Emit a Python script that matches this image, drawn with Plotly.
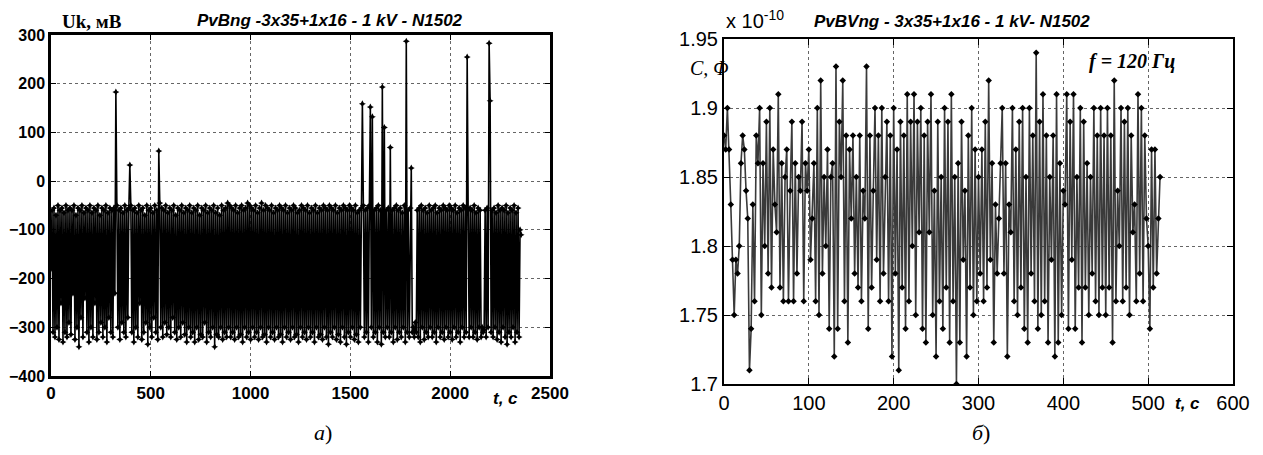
import plotly.graph_objects as go

# ---------------- data ----------------
# left panel: Uk (mV) vs t (s), sampled every 5 s
uk_step = 5
uk_values = [
    -180,-60,-310,-55,-320,-70,-300,-50,-325,-60,-250,-55,-330,-65,-310,-50,-320,-60,-290,-55,
    -315,-60,-230,-50,-325,-70,-300,-55,-340,-60,-280,-50,-320,-65,-240,-55,-310,-60,-330,-50,
    -300,-65,-320,-55,-250,-60,-325,-50,-310,-70,-290,-55,-320,-60,-300,-50,-330,-65,-280,-55,
    -310,-60,-320,-55,-230,183,-50,-300,-60,-325,-55,-290,-65,-310,-50,-320,-60,-280,-55,33,
    -50,-310,-60,-330,-55,-300,-65,-320,-50,-250,-60,-325,-55,-310,-70,-290,-50,-335,-60,-300,
    -55,-320,-65,-280,-50,-310,-60,-325,62,-45,-300,-55,-320,-60,-290,-50,-315,-65,-300,-55,
    -320,-60,-280,-50,-310,-70,-325,-55,-300,-60,-320,-50,-290,-65,-315,-55,-330,-60,-300,-50,
    -320,-65,-310,-55,-330,-60,-300,-50,-325,-70,-315,-55,-320,-60,-290,-50,-330,-65,-310,-55,
    -320,-60,-300,-50,-340,-65,-315,-55,-320,-70,-300,-50,-325,-60,-310,-55,-320,-45,-300,-50,
    -320,-55,-310,-60,-325,-50,-300,-65,-320,-55,-315,-50,-330,-60,-300,-55,-320,-45,-310,-50,
    -325,-55,-300,-60,-320,-50,-310,-65,-325,-55,-300,-45,-320,-60,-315,-50,-330,-55,-300,-60,
    -320,-50,-310,-65,-325,-55,-300,-60,-320,-50,-315,-55,-330,-60,-300,-50,-320,-65,-310,-55,
    -325,-60,-300,-50,-320,-55,-315,-65,-330,-60,-300,-50,-320,-55,-310,-60,-325,-50,-300,-65,
    -320,-55,-310,-60,-330,-50,-300,-65,-320,-55,-315,-60,-325,-50,-300,-55,-320,-60,-335,-50,
    -310,-55,-320,-60,-300,-50,-325,-65,-315,-55,-330,-60,-300,-50,-320,-55,-335,-60,-310,-50,
    -320,-55,-300,-60,-325,-50,-315,-65,-330,-60,-300,-55,159,-50,-320,-60,-310,-55,-330,-50,
    152,-300,132,-320,-60,-310,-55,-330,-50,-300,-60,-335,193,-310,110,-320,-60,-300,-55,-320,
    69,-310,-60,-330,-55,-300,-50,-325,-60,-310,-55,-320,-65,-300,-50,-330,287,-310,-60,-320,
    -55,27,-310,-300,-320,-290,-310,-60,-320,-55,-330,-50,-300,-60,-325,-55,-310,-65,-320,-50,
    -300,-60,-320,-55,-310,-50,-330,-65,-300,-55,-320,-60,-310,-50,-325,-55,-300,-60,-320,-50,
    -310,-55,-325,-60,-300,-50,-320,-65,-310,-55,-330,-60,-300,-50,-320,-55,-310,255,-60,-320,
    -55,-300,-60,-320,-50,-310,-65,-325,-55,-300,-60,-320,-300,-310,-305,-60,-320,-55,-300,283,
    165,-310,-60,-320,-55,-300,-65,-325,-50,-310,-60,-330,-55,-300,-60,-320,-50,-335,-65,-310,
    -55,-320,-60,-300,-50,-330,-65,-310,-55,-320,-100,-110,
]
uk_t = [i * uk_step for i in range(len(uk_values))]

# right panel: C (x1e-10 F) vs t (s), sampled every 2 s
c_step = 2
c_values = [
    1.88,1.87,1.90,1.87,1.83,1.79,1.75,1.79,1.78,1.80,
    1.86,1.88,1.87,1.84,1.82,1.71,1.74,1.83,1.76,1.88,
    1.86,1.90,1.75,1.86,1.80,1.89,1.78,1.90,1.77,1.87,
    1.83,1.81,1.91,1.77,1.86,1.76,1.85,1.87,1.76,1.84,
    1.89,1.76,1.86,1.78,1.85,1.84,1.89,1.76,1.86,1.84,
    1.87,1.79,1.82,1.86,1.76,1.90,1.75,1.92,1.78,1.85,
    1.80,1.87,1.74,1.85,1.86,1.72,1.93,1.74,1.89,1.85,
    1.92,1.76,1.88,1.73,1.87,1.82,1.88,1.78,1.85,1.77,
    1.88,1.76,1.84,1.82,1.93,1.74,1.88,1.77,1.84,1.90,
    1.79,1.88,1.76,1.90,1.78,1.85,1.89,1.76,1.88,1.72,
    1.90,1.78,1.87,1.71,1.89,1.77,1.88,1.74,1.91,1.76,
    1.89,1.80,1.91,1.75,1.89,1.81,1.90,1.74,1.88,1.73,
    1.89,1.81,1.91,1.75,1.84,1.72,1.89,1.76,1.85,1.74,
    1.90,1.77,1.89,1.73,1.91,1.76,1.85,1.70,1.86,1.73,
    1.89,1.79,1.84,1.72,1.88,1.77,1.90,1.75,1.87,1.76,
    1.85,1.78,1.87,1.76,1.89,1.77,1.92,1.79,1.86,1.73,
    1.83,1.78,1.82,1.86,1.90,1.78,1.86,1.72,1.83,1.81,
    1.90,1.76,1.87,1.75,1.89,1.77,1.90,1.74,1.85,1.73,
    1.90,1.78,1.88,1.76,1.94,1.74,1.89,1.75,1.91,1.76,
    1.88,1.73,1.85,1.79,1.88,1.72,1.91,1.73,1.86,1.75,
    1.84,1.83,1.91,1.74,1.89,1.79,1.91,1.74,1.85,1.77,
    1.90,1.73,1.89,1.77,1.86,1.75,1.85,1.78,1.90,1.76,
    1.88,1.75,1.90,1.77,1.88,1.75,1.90,1.77,1.88,1.73,
    1.92,1.76,1.84,1.80,1.90,1.76,1.89,1.77,1.90,1.75,
    1.88,1.81,1.83,1.76,1.91,1.78,1.90,1.76,1.88,1.82,
    1.80,1.74,1.87,1.77,1.87,1.78,1.82,1.85,
]
c_t = [i * c_step for i in range(len(c_values))]

uk_xticks = [0, 500, 1000, 1500, 2000, 2500]
uk_yticks = [-400, -300, -200, -100, 0, 100, 200, 300]
c_xticks = [0, 100, 200, 300, 400, 500, 600]
c_yticks = [1.7, 1.75, 1.8, 1.85, 1.9, 1.95]
c_ylabels = ["1.7", "1.75", "1.8", "1.85", "1.9", "1.95"]

title_left = "PvBng -3x35+1x16 - 1 kV - N1502"
title_right = "PvBVng - 3x35+1x16 - 1 kV- N1502"

# ---------------- figure ----------------
# page body has an 8px margin, so the figure is shrunk to fit the window
OFF = 8
W, H = 1263 - 2 * OFF, 455 - 2 * OFF
def px(x): return (x - OFF) / W
def py(y): return 1 - (y - OFF) / H

fig = go.Figure()
fig.add_trace(go.Scatter(
    x=uk_t, y=uk_values, mode="lines+markers", xaxis="x", yaxis="y",
    line=dict(color="black", width=1.6),
    marker=dict(symbol="star-diamond", size=5, color="black"),
    showlegend=False, hoverinfo="skip"))
fig.add_trace(go.Scatter(
    x=c_t, y=c_values, mode="lines+markers", xaxis="x2", yaxis="y2",
    line=dict(color="#3a3a3a", width=1.6),
    marker=dict(symbol="diamond", size=5, color="black"),
    showlegend=False, hoverinfo="skip"))

sans_bold = dict(family="Liberation Sans", size=16, color="black", weight="bold")
sans = dict(family="Liberation Sans", size=20, color="black")

common = dict(showline=True, linecolor="black", mirror="ticks", ticks="inside",
              tickcolor="black", showgrid=True, gridcolor="#666666",
              griddash="dot", gridwidth=1, zeroline=False, automargin=False)

fig.update_layout(
    template="none",
    width=W, height=H, margin=dict(l=0, r=0, t=0, b=0),
    paper_bgcolor="white", plot_bgcolor="white",
    xaxis=dict(domain=[px(51), px(550)], range=[0, 2500], tickvals=uk_xticks,
               ticktext=["0", "500", "1000", "1500", "2000", "2500"],
               linewidth=2.5, ticklen=5, tickfont=dict(sans_bold, size=17),
               anchor="y", **common),
    yaxis=dict(domain=[py(376), py(35)], range=[-400, 300], tickvals=uk_yticks,
               linewidth=2.5, ticklen=5, tickfont=sans_bold, anchor="x", ticklabelstandoff=0,
               **common),
    xaxis2=dict(domain=[px(724), px(1233)], range=[0, 600], tickvals=c_xticks,
                linewidth=2, ticklen=6, tickfont=sans, anchor="y2", **common),
    yaxis2=dict(domain=[py(384), py(39)], range=[1.7, 1.95], tickvals=c_yticks,
                ticktext=c_ylabels, linewidth=2, ticklen=6, tickfont=sans,
                anchor="x2", ticklabelstandoff=0, **common),
)

ann = []
def A(text, x, y, font, xanchor="center", yanchor="middle"):
    ann.append(dict(text=text, x=px(x), y=py(y), xref="paper", yref="paper",
                    showarrow=False, font=font, xanchor=xanchor, yanchor=yanchor))

A("<b><i>" + title_left + "</i></b>", 330, 9,
  dict(family="Liberation Sans", size=17, color="black"), yanchor="top")
A("<b>Uk, мВ</b>", 60, 9, dict(family="Liberation Serif", size=19, color="black"),
  xanchor="left", yanchor="top")
A("<b><i>t, c</i></b>", 505, 398, dict(family="Liberation Sans", size=17, color="black"))
A("<i>a</i>)", 323, 432, dict(family="Liberation Serif", size=22, color="black"))

A("<b><i>" + title_right + "</i></b>", 952, 22,
  dict(family="Liberation Sans", size=17, color="black"))
A("x 10<sup>-10</sup>", 724, 20, dict(family="Liberation Sans", size=20, color="black"), xanchor="left")
A("<i>C, Φ</i>", 688, 68, dict(family="Liberation Serif", size=20, color="black"), xanchor="left")
A("<b><i>f = 120 Гц</i></b>", 1132, 62, dict(family="Liberation Serif", size=20, color="black"))
A("<b><i>t, c</i></b>", 1187, 403, dict(family="Liberation Sans", size=17, color="black"))
A("<i>б</i>)", 981, 432, dict(family="Liberation Serif", size=22, color="black"))

fig.update_layout(annotations=ann)
fig.write_html("out.html")
